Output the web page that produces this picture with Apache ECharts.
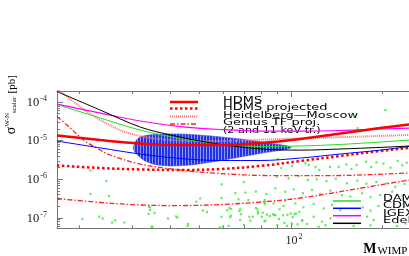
<!DOCTYPE html>
<html><head><meta charset="utf-8">
<script src="https://cdn.jsdelivr.net/npm/echarts@6/dist/echarts.min.js"></script>
<style>html,body{margin:0;padding:0;background:#fff}#c{width:409px;height:256px}</style>
</head><body><div id="c"></div>
<script>
// ---- data (WIMP mass in GeV, cross section in pb) ----
const hdms = [[16.9,1.36e-5],[23.5,1.04e-5],[31.8,8.46e-6],[43.1,7.7e-6],[58.4,7.7e-6],[79.2,8.7e-6],[107.5,1.11e-5],[145.5,1.54e-5],[197,2.13e-5],[246,2.63e-5],[300,3.2e-5]];
const hdmsProjected = [[16.9,2.28e-6],[23.5,1.96e-6],[31.8,1.80e-6],[43.1,1.74e-6],[58.4,1.85e-6],[79.2,2.21e-6],[107.5,2.98e-6],[145.5,4.02e-6],[197,5.4e-6],[246,6.5e-6],[300,7.8e-6]];
const heidelbergMoscow = [[16.9,2.2e-4],[20.2,7.5e-5],[23.5,3.44e-5],[27.3,1.89e-5],[31.8,1.32e-5],[40.0,1.04e-5],[50.2,9.8e-6],[68.0,1.01e-5],[92.3,1.11e-5],[135,1.21e-5],[246,1.41e-5],[300,1.5e-5]];
const genius11 = [[16.9,4.24e-5],[18.7,2.13e-5],[20.7,1.04e-5],[22.8,6.5e-6],[25.3,4.26e-6],[31.8,2.49e-6],[43.1,1.74e-6],[58.4,1.41e-6],[85.5,1.25e-6],[135,1.25e-6],[246,1.46e-6],[300,1.6e-6]];
const genius2 = [[16.9,3.18e-7],[23.5,2.51e-7],[31.8,2.16e-7],[43.1,2.09e-7],[58.4,2.22e-7],[79.2,2.58e-7],[107.5,3.28e-7],[157,5.3e-7],[246,9.6e-7],[300,1.2e-6]];
const igex = [[16.9,8.9e-5],[23.5,5.2e-5],[31.8,3.24e-5],[43.1,2.33e-5],[58.4,1.95e-5],[79.2,1.78e-5],[107.5,1.78e-5],[145.5,1.84e-5],[197,2.01e-5],[246,2.13e-5],[300,2.3e-5]];
const dama = [[16.9,8.7e-5],[23.5,3.87e-5],[31.8,1.89e-5],[43.1,1.14e-5],[58.4,8.2e-6],[79.2,7.1e-6],[107.5,7.3e-6],[145.5,8.0e-6],[197,9.25e-6],[246,1.04e-5],[300,1.15e-5]];
const cdms = [[16.9,9.8e-6],[23.5,6.5e-6],[31.8,4.52e-6],[43.1,3.46e-6],[58.4,3.07e-6],[79.2,3.07e-6],[107.5,3.56e-6],[145.5,4.52e-6],[197,5.7e-6],[246,7.1e-6],[300,8.6e-6]];
const edelweiss = [[16.9,1.88e-4],[23.5,6.2e-5],[31.8,2.26e-5],[40.0,1.41e-5],[50.2,9.8e-6],[68.0,6.9e-6],[85.5,5.9e-6],[107.5,5.7e-6],[145.5,6.1e-6],[197,6.7e-6],[246,7.3e-6],[300,8.0e-6]];
const damaRegion = [[30.2,6.9e-6],[30.9,1.04e-5],[31.8,1.25e-5],[34.3,1.42e-5],[38.4,1.5e-5],[44.8,1.48e-5],[54.2,1.33e-5],[68.0,1.11e-5],[82.3,8.98e-6],[95.8,7.5e-6],[100.3,6.7e-6],[95.8,5.9e-6],[82.3,4.94e-6],[68.0,3.78e-6],[56.2,2.89e-6],[46.5,2.34e-6],[40.0,2.21e-6],[35.6,2.42e-6],[33.0,2.98e-6],[31.4,4.02e-6],[30.4,5.4e-6]];
const susyModels = [[21.8,1.7e-6],[24.6,9.0e-7],[21.8,4.2e-7],[25.1,3.7e-7],[20.5,9.4e-8],[23.3,1.08e-7],[23.9,9.6e-8],[25.7,7.6e-8],[26.3,8.6e-8],[28.2,7.6e-8],
[34.0,1.91e-7],[34.3,1.6e-7],[33.9,1.26e-7],[35.5,1.34e-7],[39.3,9.7e-8],[41.8,1.09e-7],[42.2,1.03e-7],[34.9,5.9e-8],[38.9,1.85e-6],[45.8,6.95e-8],[45.6,6.2e-8],
[51.2,1.54e-7],[52.8,1.42e-7],[61.6,1.58e-7],[62.7,1.80e-7],[63.5,1.70e-7],[67.6,1.51e-7],[68.3,1.24e-7],[63.3,1.14e-7],[70.0,6.6e-8],[74.8,1.07e-7],[76.6,1.80e-7],
[81.8,2.58e-7],[77.8,1.42e-7],[80.7,1.36e-7],[83.3,1.21e-7],[81.8,8.1e-8],[85.1,1.12e-7],[87.2,1.24e-7],[88.8,1.17e-7],[91.3,9.4e-8],[94.2,1.17e-7],[95.1,7.4e-8],
[97.3,1.21e-7],[99.8,1.30e-7],[101.3,1.055e-7],[104,1.30e-7],[106.6,1.42e-7],[100.8,6.95e-8],[105.2,6.8e-8],[109,8.5e-8],[95.8,2.8e-7],[82,2.29e-7],[91.7,1.67e-7],[59.6,5.9e-8],
[59.1,7.4e-7],[69.9,8.5e-7],[65.5,4.35e-7],[70.7,4.5e-7],[76.6,4.8e-7],[82.9,4.16e-7],[50.2,3.2e-7],[48.7,2.63e-7],[59.0,3.28e-7],[67.1,3.05e-7],[72.4,2.9e-7],[82,2.9e-7],
[34.3,1.88e-7],[68,1.67e-7],[59.0,1.07e-7],[63.0,1.03e-7],[68,8.8e-8],[72.9,1.07e-7],[77.9,1.30e-7],[77.5,1.67e-7],[80.2,1.07e-7],[82.4,8.5e-8],[73.4,8.5e-8],[62.3,6.2e-8],[58.2,5.7e-8],[34.7,5.9e-8],
[90.4,3.36e-6],[93.0,1.96e-6],[100.8,2.21e-6],[111.6,2.6e-6],[114.5,2.34e-6],[120.6,2.08e-6],[124,1.74e-6],[134.5,2.1e-6],[143.8,2.1e-6],[152.3,2.43e-6],[158.3,1.85e-6],[164.6,2.34e-6],
[177,2.85e-6],[184,2.08e-6],[191.5,2.75e-6],[202,2.54e-6],[213,2.0e-6],[225,3.0e-6],[233,2.3e-6],[241,2.7e-6],
[90,1.17e-6],[98.3,1.06e-6],[106.1,1.22e-6],[113.7,9.6e-7],[121.7,1.0e-6],[131,9.0e-7],[140.6,1.04e-6],[153,7.9e-7],[165.6,9.2e-7],[177.5,7.7e-7],[191.5,8.5e-7],[207.5,7.9e-7],[221,6.4e-7],[237,7.6e-7],
[88.8,5.85e-7],[95.8,4.78e-7],[102.1,5.5e-7],[109.6,4.35e-7],[117.4,5.3e-7],[125,4.16e-7],[135,5.1e-7],[147.4,3.9e-7],[157,3.55e-7],[171.6,4.35e-7],[183,3.44e-7],[197,3.9e-7],[216,4.78e-7],[233,3.69e-7],
[87.7,2.38e-7],[94.6,2.03e-7],[103.4,2.38e-7],[110,1.88e-7],[118.9,2.29e-7],[128.3,1.76e-7],[136.7,2.16e-7],[145.5,1.6e-7],[172.6,1.88e-7],[183,1.54e-7],[194.6,2.03e-7],
[88.2,1.19e-7],[102.7,1.26e-7],[108.8,8.8e-8],[118.9,1.07e-7],[126.6,8.0e-8],[135,9.7e-8],[178.4,1.07e-7],[187.5,8.8e-8],
[90.2,6.5e-8],[97.1,6.2e-8],[113,6.95e-8],[123.5,5.9e-8],[130,6.5e-8],[161,6.2e-8],[183,6.4e-8],[224,6.2e-8],[239,7.2e-8],
[158.8,4.6e-5],[205,6.2e-5],[166,2.1e-5]];
const massMinorTicks = [20,30,40,50,60,70,80,90,200];
const massMajorTicks = [100];
const sigmaMajorTicks = [1e-7,1e-6,1e-5,1e-4];
const sigmaMinorTicks = [6e-8,7e-8,8e-8,9e-8,2e-7,3e-7,4e-7,5e-7,6e-7,7e-7,8e-7,9e-7,2e-6,3e-6,4e-6,5e-6,6e-6,7e-6,8e-6,9e-6,2e-5,3e-5,4e-5,5e-5,6e-5,7e-5,8e-5,9e-5];
const topLegend = [
  {name:'HDMS', lines:['HDMS']},
  {name:'HDMS projected', lines:['HDMS projected']},
  {name:'Heidelberg\u2014Moscow', lines:['Heidelberg\u2014Moscow']},
  {name:'Genius TF proj.', lines:['Genius TF proj.','(2 and 11 keV tr.)']}
];
const bottomLegend = ['DAMA','CDMS','IGEX','Edelweiss'];

// ---- chart ----
const X_MIN = 16.9, X_MAX = 300, Y_MIN = 5.38e-8, Y_MAX = 1.94e-4;
const RED = '#ff0000';
const styles = {
  'HDMS': {color: RED, width: 2.5, type: 'solid'},
  'HDMS projected': {color: RED, width: 2.5, type: [2.5, 2.5]},
  'Heidelberg\u2014Moscow': {color: '#ff7070', width: 2, type: [1, 1]},
  'Genius TF proj.': {color: '#ff2020', width: 1.3, type: [5, 2, 1.5, 2]},
  'DAMA': {color: '#22dd22', width: 1, type: 'solid'},
  'CDMS': {color: '#0000ff', width: 1, type: 'solid'},
  'IGEX': {color: '#ff00ff', width: 1.2, type: 'solid'},
  'Edelweiss': {color: '#000000', width: 1, type: 'solid'}
};

const pc = document.createElement('canvas');
pc.width = 3; pc.height = 4;
const pctx = pc.getContext('2d');
pctx.fillStyle = '#2233e6'; pctx.fillRect(0, 0, 3, 4);
pctx.fillStyle = '#8d98f2'; pctx.fillRect(2, 0, 1, 4);

const chart = echarts.init(document.getElementById('c'), null, {renderer: 'canvas'});

function lineSeries(name, data, styleKey) {
  const s = styles[styleKey || name];
  return {type: 'line', name, data, showSymbol: false, symbol: 'none', smooth: 0.35,
    lineStyle: {color: s.color, width: s.width, type: s.type}, z: 5, clip: true, silent: true};
}

const axisColor = '#777';
const supLabel = (exp) => '{b|10}{s|' + exp + '}';

// horizontally stretched legend lettering (as in the original figure)
const LEGEND_FONT = '8px "DejaVu Sans"';
const STRETCH = 1.62;
const graphics = [];
topLegend.forEach((it, i) => {
  const s = styles[it.name];
  const ly = [102, 108.5, 116.5, 124][i];
  graphics.push({type: 'line', shape: {x1: 170, y1: ly, x2: 198, y2: ly},
    style: {stroke: s.color, lineWidth: s.width, lineDash: s.type === 'solid' ? null : s.type}});
  it.lines.forEach((t, j) => {
    graphics.push({type: 'text', x: 223, y: ly - 1 + j * 7.5, scaleX: j === 1 ? 1.4 : STRETCH,
      style: {text: t, font: LEGEND_FONT, fill: '#000', verticalAlign: 'middle', textAlign: 'left'}});
  });
});
bottomLegend.forEach((name, i) => {
  const s = styles[name];
  const ly = [201, 208.3, 215.7, 223.3][i];
  graphics.push({type: 'line', shape: {x1: 333, y1: ly, x2: 361, y2: ly},
    style: {stroke: s.color, lineWidth: 1.5}});
  graphics.push({type: 'text', x: 383, y: ly - 2, scaleX: STRETCH,
    style: {text: name, font: LEGEND_FONT, fill: '#000', verticalAlign: 'middle', textAlign: 'left'}});
});

const option = {
  backgroundColor: '#fff',
  animation: false,
  grid: {left: 57, top: 91, width: 378.5, height: 137.3, containLabel: false, outerBoundsMode: 'none'},
  xAxis: [
    {type: 'log', min: X_MIN, max: X_MAX, position: 'bottom',
      axisLine: {show: true, lineStyle: {color: axisColor, width: 1}},
      axisTick: {show: true, inside: true, length: 3, customValues: massMinorTicks, lineStyle: {color: axisColor}},
      axisLabel: {show: true, customValues: massMajorTicks, margin: 5, padding: [0, 0, 0, 6],
        formatter: (v) => supLabel(Math.round(Math.log10(v))),
        rich: {b: {fontFamily: 'Liberation Serif', fontSize: 12, color: '#222', verticalAlign: 'bottom'},
               s: {fontFamily: 'Liberation Serif', fontSize: 8, color: '#222', verticalAlign: 'top', padding: [0, 0, 6, 1]}}},
      splitLine: {show: false},
      name: '{m|M}{sub|WIMP} {m|[GeV]}', nameLocation: 'middle', nameGap: 13, nameMoveOverlap: false,
      nameTextStyle: {align: 'left', padding: [0, 0, 0, 117],
        rich: {m: {fontFamily: 'Liberation Serif', fontSize: 14, fontWeight: 'bold', color: '#000', verticalAlign: 'bottom'},
               sub: {fontFamily: 'Liberation Serif', fontSize: 11, color: '#000', verticalAlign: 'bottom', padding: [4, 0, 0, 1]}}}
    },
    {type: 'log', min: X_MIN, max: X_MAX, position: 'top',
      axisLine: {show: true, lineStyle: {color: axisColor, width: 1}},
      axisTick: {show: true, inside: true, length: 3, customValues: massMinorTicks, lineStyle: {color: axisColor}},
      axisLabel: {show: false}, splitLine: {show: false}},
    {type: 'log', min: X_MIN, max: X_MAX, position: 'bottom',
      axisLine: {show: false},
      axisTick: {show: true, inside: true, length: 6, customValues: massMajorTicks, lineStyle: {color: axisColor}},
      axisLabel: {show: false}, splitLine: {show: false}},
    {type: 'log', min: X_MIN, max: X_MAX, position: 'top',
      axisLine: {show: false},
      axisTick: {show: true, inside: true, length: 6, customValues: massMajorTicks, lineStyle: {color: axisColor}},
      axisLabel: {show: false}, splitLine: {show: false}}
  ],
  yAxis: [
    {type: 'log', min: Y_MIN, max: Y_MAX, position: 'left',
      axisLine: {show: true, lineStyle: {color: axisColor, width: 1}},
      axisTick: {show: true, inside: true, length: 3, customValues: sigmaMinorTicks, lineStyle: {color: axisColor}},
      axisLabel: {show: true, customValues: sigmaMajorTicks, margin: 10,
        formatter: (v) => supLabel(Math.round(Math.log10(v))),
        rich: {b: {fontFamily: 'Liberation Serif', fontSize: 12.5, color: '#222', verticalAlign: 'bottom'},
               s: {fontFamily: 'Liberation Serif', fontSize: 8, color: '#222', verticalAlign: 'top', padding: [0, 0, 6, 1]}}},
      splitLine: {show: false},
      name: '{g|\u03c3}{sup|W-N}{sub|scalar} {u|[pb]}', nameLocation: 'middle', nameGap: 39, nameRotate: 90, nameMoveOverlap: false,
      nameTextStyle: {padding: [0, 0, 0, 110],
        rich: {g: {fontFamily: 'Liberation Serif', fontSize: 14, color: '#000', verticalAlign: 'bottom'},
               sup: {fontFamily: 'Liberation Serif', fontSize: 7, color: '#000', verticalAlign: 'top', padding: [0, 0, 7, 0]},
               sub: {fontFamily: 'Liberation Serif', fontSize: 7, color: '#000', verticalAlign: 'bottom'},
               u: {fontFamily: 'Liberation Serif', fontSize: 11, color: '#000', verticalAlign: 'bottom'}}}
    },
    {type: 'log', min: Y_MIN, max: Y_MAX, position: 'left',
      axisLine: {show: false},
      axisTick: {show: true, inside: true, length: 6, customValues: sigmaMajorTicks, lineStyle: {color: axisColor}},
      axisLabel: {show: false}, splitLine: {show: false}}
  ],
  graphic: graphics,
  series: [
    {type: 'scatter', name: 'SUSY', data: susyModels, symbol: 'rect', symbolSize: 2.2,
      itemStyle: {color: '#33ee33'}, z: 2, silent: true},
    {type: 'custom', name: 'DAMA region', data: [damaRegion[0]], z: 3, silent: true, clip: true,
      renderItem: (params, api) => ({
        type: 'polygon',
        shape: {points: damaRegion.map(p => api.coord(p)), smooth: 0.15},
        style: {fill: {image: pc, repeat: 'repeat'}, stroke: '#2233e6', lineWidth: 0.5}
      })},
    lineSeries('Heidelberg\u2014Moscow', heidelbergMoscow),
    lineSeries('Genius TF proj. 11 keV', genius11, 'Genius TF proj.'),
    lineSeries('Genius TF proj. 2 keV', genius2, 'Genius TF proj.'),
    lineSeries('HDMS projected', hdmsProjected),
    lineSeries('DAMA', dama),
    lineSeries('CDMS', cdms),
    lineSeries('IGEX', igex),
    lineSeries('Edelweiss', edelweiss),
    lineSeries('HDMS', hdms)
  ]
};
chart.setOption(option);
</script>
</body></html>
